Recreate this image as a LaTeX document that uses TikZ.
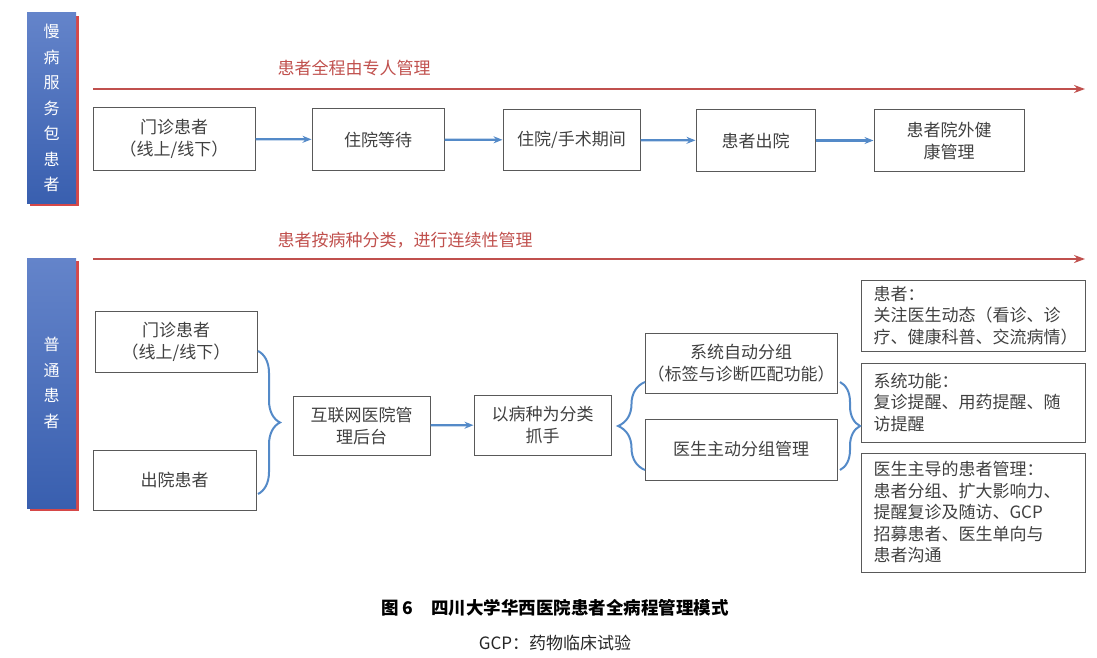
\documentclass[tikz,border=0pt]{standalone}
\usepackage{fontspec}
\setmainfont{Noto Sans CJK SC}
\usetikzlibrary{arrows.meta,shadows,decorations.pathreplacing}
\definecolor{barlight}{RGB}{100,132,202}
\definecolor{bardark}{RGB}{57,95,175}
\definecolor{barred}{RGB}{214,72,72}
\definecolor{redline}{RGB}{192,80,77}
\definecolor{blueline}{RGB}{84,138,200}
\definecolor{boxtext}{RGB}{64,64,64}

\begin{document}
\begin{tikzpicture}[x=1pt,y=-1pt,
  box/.style={draw=black!65,line width=1pt,inner sep=0pt,align=center,text=boxtext,
    font=\fontsize{17}{22}\selectfont},
  notebox/.style={draw=black!65,line width=1pt,inner xsep=12pt,inner ysep=0pt,text width=200pt,
    align=left,text=boxtext,font=\fontsize{17}{21.5}\selectfont},
  bar/.style={minimum width=49pt,inner sep=0pt,top color=barlight,bottom color=bardark,
    text=white,align=center,font=\fontsize{16}{25.5}\selectfont,
    drop shadow={shadow xshift=3pt,shadow yshift=-3pt,fill=barred,opacity=1}},
  flow/.style={blueline,line width=2.2pt,-{Stealth[length=9pt,width=7pt]}},
  track/.style={redline,line width=2pt,-{Stealth[length=11pt,width=8pt]}},
  brace/.style={blueline,line width=2pt,decorate,decoration={brace,amplitude=#1}}]
\useasboundingbox (0,0) rectangle (1097,658);

% side bars
\node (bar1) at (51.5,108) [bar,minimum height=190pt] {慢\\病\\服\\务\\包\\患\\者};
\node (bar2) at (51.5,383) [bar,minimum height=250pt] {普\\通\\患\\者};

% red tracks
\coordinate (t1s) at (93,89);
\coordinate (t1e) at (1085,89);
\coordinate (t2s) at (93,259);
\coordinate (t2e) at (1085,259);
\draw[track] (t1s) -- (t1e);
\draw[track] (t2s) -- (t2e);
\node (lab1) at (274,68) [anchor=west,text=redline,font=\fontsize{17}{20}\selectfont] {患者全程由专人管理};
\node (lab2) at (274,240) [anchor=west,text=redline,font=\fontsize{17}{20}\selectfont] {患者按病种分类，进行连续性管理};

% top row
\node (b1) at (174,139) [box,minimum width=162pt,minimum height=62pt] {门诊患者\\（线上/线下）};
\node (b2) at (378,139.5) [box,minimum width=132pt,minimum height=61pt] {住院等待};
\node (b3) at (571.5,140) [box,minimum width=137pt,minimum height=60pt] {住院/手术期间};
\node (b4) at (755.5,140.5) [box,minimum width=119pt,minimum height=61pt] {患者出院};
\node (b5) at (949,140.5) [box,minimum width=150pt,minimum height=61pt] {患者院外健\\康管理};
\draw[flow] (b1) -- (b2);
\draw[flow] (b2) -- (b3);
\draw[flow] (b3) -- (b4);
\draw[flow] (b4) -- (b5);

% bottom row
\node (c1) at (176,341.5) [box,minimum width=162pt,minimum height=61pt] {门诊患者\\（线上/线下）};
\node (c2) at (174.5,480) [box,minimum width=163pt,minimum height=60pt] {出院患者};
\node (c3) at (361.5,425.5) [box,minimum width=137pt,minimum height=59pt] {互联网医院管\\理后台};
\node (c4) at (542.5,425) [box,minimum width=137pt,minimum height=60pt] {以病种为分类\\抓手};
\node (c5) at (741,363) [box,minimum width=192pt,minimum height=60pt] {系统自动分组\\（标签与诊断匹配功能）};
\node (c6) at (741,449.5) [box,minimum width=192pt,minimum height=61pt] {医生主动分组管理};
\draw[flow] (c3) -- (c4);

\node (d1) at (973.5,315.5) [notebox,minimum height=71pt] {患者：\\关注医生动态（看诊、诊\\疗、健康科普、交流病情）};
\node (d2) at (973.5,402.5) [notebox,minimum height=79pt] {系统功能：\\复诊提醒、用药提醒、随\\访提醒};
\node (d3) at (973.5,512.5) [notebox,minimum height=119pt] {医生主导的患者管理：\\患者分组、扩大影响力、\\提醒复诊及随访、GCP\\招募患者、医生单向与\\患者沟通};

% braces
\coordinate (br1a) at (258,351);
\coordinate (br1b) at (258,494);
\coordinate (br2a) at (645,470);
\coordinate (br2b) at (645,382);
\coordinate (br3a) at (840,382);
\coordinate (br3b) at (840,470);
\draw[brace=22pt] (br1a) -- (br1b);
\draw[brace=27pt] (br2a) -- (br2b);
\draw[brace=20pt] (br3a) -- (br3b);

% caption
\node (cap) at (555,608) [font=\fontsize{17.5}{20}\selectfont\bfseries] {图 6\quad 四川大学华西医院患者全病程管理模式};
\node (note) at (555,643) [text=black!85,font=\fontsize{17}{20}\selectfont] {GCP：药物临床试验};
\end{tikzpicture}
\end{document}
